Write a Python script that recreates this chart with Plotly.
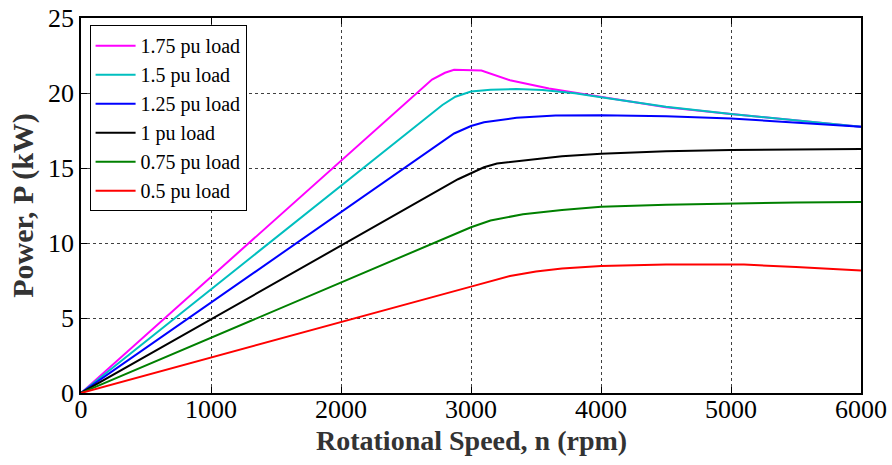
import plotly.graph_objects as go

# Power vs. rotational speed for several load levels
labels = ["1.75 pu load", "1.5 pu load", "1.25 pu load", "1 pu load", "0.75 pu load", "0.5 pu load"]
colors = ["#ff00ff", "#00bfbf", "#0000ff", "#000000", "#008000", "#ff0000"]

speed_175 = [0, 2700, 2800, 2870, 3080, 3300, 3600, 4000, 4500, 5000, 5500, 6000]
power_175 = [0, 20.9, 21.35, 21.55, 21.5, 20.85, 20.3, 19.75, 19.05, 18.6, 18.2, 17.75]

speed_150 = [0, 2780, 2880, 3000, 3150, 3350, 3550, 3800, 4000, 4500, 5000, 5500, 6000]
power_150 = [0, 19.2, 19.75, 20.1, 20.22, 20.27, 20.2, 19.98, 19.72, 19.08, 18.6, 18.2, 17.75]

speed_125 = [0, 2750, 2870, 3000, 3100, 3350, 3650, 4000, 4500, 5000, 5500, 6000]
power_125 = [0, 16.6, 17.3, 17.8, 18.05, 18.35, 18.5, 18.52, 18.45, 18.3, 18.05, 17.75]

speed_100 = [0, 2900, 3000, 3100, 3200, 3350, 3700, 4000, 4500, 5000, 5500, 6000]
power_100 = [0, 14.25, 14.65, 15.05, 15.3, 15.45, 15.78, 15.95, 16.12, 16.2, 16.25, 16.27]

speed_075 = [0, 2900, 3000, 3150, 3400, 3700, 4000, 4500, 5000, 5500, 6000]
power_075 = [0, 10.7, 11.05, 11.5, 11.92, 12.2, 12.42, 12.55, 12.64, 12.7, 12.73]

speed_050 = [0, 1000, 2000, 3000, 3300, 3500, 3700, 4000, 4500, 5100, 5500, 6000]
power_050 = [0, 2.38, 4.72, 7.09, 7.8, 8.1, 8.3, 8.47, 8.56, 8.56, 8.4, 8.17]

x_ticks = [0, 1000, 2000, 3000, 4000, 5000, 6000]
y_ticks = [0, 5, 10, 15, 20, 25]

x_title = "Rotational Speed, n (rpm)"
y_title = "Power, P (kW)"

series = [
    (speed_175, power_175),
    (speed_150, power_150),
    (speed_125, power_125),
    (speed_100, power_100),
    (speed_075, power_075),
    (speed_050, power_050),
]

FONT = "Liberation Serif, Times New Roman, serif"

fig = go.Figure()
for (xs, ys), name, col in zip(series, labels, colors):
    fig.add_trace(go.Scatter(x=xs, y=ys, mode="lines", name=name,
                             line=dict(color=col, width=2)))

axis_common = dict(
    showline=True, linecolor="black", linewidth=1.5, mirror="ticks",
    ticks="inside", ticklen=6, tickcolor="black", tickwidth=1,
    showgrid=True, gridcolor="rgba(0,0,0,0.75)", griddash="dot", gridwidth=1,
    zeroline=False, automargin=False,
    tickfont=dict(family=FONT, size=26, color="black"),
)

fig.update_xaxes(range=[0, 6000], tickvals=x_ticks,
                 ticktext=[str(v) for v in x_ticks],
                 ticklabelstandoff=-8,
                 **axis_common)
fig.update_yaxes(range=[0, 25], tickvals=y_ticks,
                 ticktext=[str(v) for v in y_ticks],
                 title=dict(text=f"<b>{y_title}</b>",
                            font=dict(family=FONT, size=30, color="#333"),
                            standoff=6),
                 **axis_common)

# x-axis title placed just beneath the tick labels
fig.add_annotation(
    text=f"<b>{x_title}</b>", xref="paper", yref="paper",
    x=0.5, y=0, xanchor="center", yanchor="middle", yshift=-47,
    showarrow=False, font=dict(family=FONT, size=28, color="#333"),
)

fig.update_layout(
    width=892, height=465,
    margin=dict(l=81, r=31, t=18, b=72),
    paper_bgcolor="white", plot_bgcolor="white",
    font=dict(family=FONT, color="black"),
    showlegend=True,
    legend=dict(
        x=0.011, y=0.981, xanchor="left", yanchor="top",
        bgcolor="white", bordercolor="black", borderwidth=1,
        font=dict(family=FONT, size=20, color="black"),
        tracegroupgap=0, itemwidth=40,
    ),
)

fig.write_html("out.html")
